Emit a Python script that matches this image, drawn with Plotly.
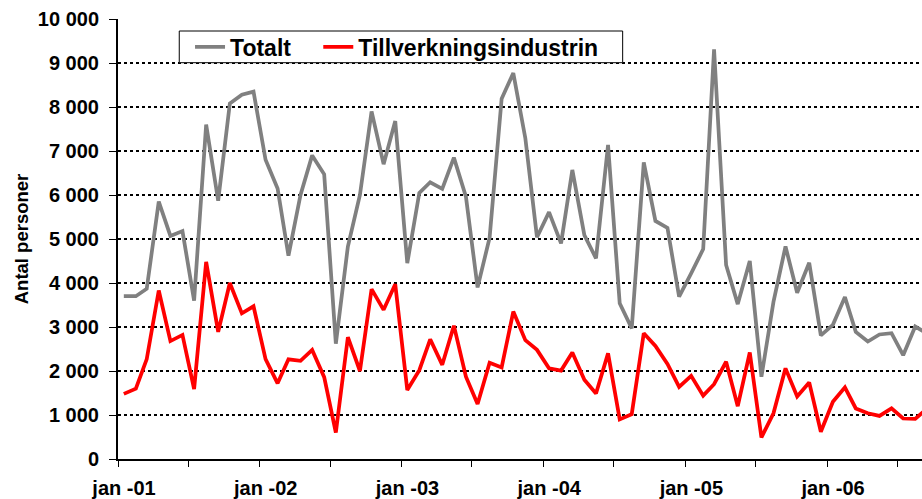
import pandas as pd
import plotly.graph_objects as go

# Monthly data, jan 2001 .. sep 2006
months = pd.date_range("2001-01-01", periods=69, freq="MS")
totalt = [3700, 3700, 3870, 5850, 5070, 5180, 3600, 7600, 5870, 8080, 8280, 8350,
          6800, 6150, 4620, 6000, 6900, 6470, 2620, 4830, 6000, 7900, 6700, 7680,
          4450, 6050, 6290, 6140, 6850, 5960, 3900, 5030, 8190, 8770, 7290, 5040,
          5610, 4900, 6570, 5090, 4560, 7140, 3540, 2970, 6740, 5410, 5250, 3690,
          4220, 4770, 9310, 4410, 3520, 4500, 1870, 3570, 4830, 3780, 4460, 2810,
          3050, 3680, 2890, 2670, 2830, 2860, 2360, 3010, 2850]
tillverkning = [1480, 1600, 2270, 3830, 2680, 2820, 1590, 4480, 2890, 4000, 3310, 3470,
                2270, 1720, 2265, 2230, 2480, 1860, 600, 2770, 2000, 3860, 3390, 3970,
                1570, 2020, 2720, 2140, 3030, 1870, 1250, 2190, 2080, 3350, 2700, 2480,
                2060, 2010, 2420, 1800, 1490, 2400, 900, 1020, 2860, 2570, 2160, 1640,
                1890, 1440, 1700, 2210, 1200, 2420, 490, 1040, 2060, 1420, 1740, 620,
                1300, 1630, 1150, 1040, 980, 1150, 920, 910, 1150]
series_names = ["Totalt", "Tillverkningsindustrin"]
tick_dates = pd.date_range("2001-01-01", "2006-07-01", freq="6MS")
tick_labels = [f"jan -{d.strftime('%y')}" if d.month == 1 else "" for d in tick_dates]

x_mid = months + pd.Timedelta(days=15)

FONT = "Liberation Sans, Arial, sans-serif"
LEGEND_FONT = dict(family=FONT, size=23, color="black", weight="bold")

fig = go.Figure()
fig.add_trace(go.Scatter(x=x_mid, y=totalt, name=series_names[0], mode="lines",
                         line=dict(color="#808080", width=3.75), legend="legend"))
fig.add_trace(go.Scatter(x=x_mid, y=tillverkning, name=series_names[1], mode="lines",
                         line=dict(color="#FF0000", width=3.75), legend="legend2"))

fig.update_layout(
    template="none",
    width=922, height=499,
    margin=dict(l=118, r=0, t=19, b=40),
    paper_bgcolor="white", plot_bgcolor="white",
    separators=", ",
    font=dict(family=FONT, size=20, color="black", weight="bold"),
    showlegend=True,
    legend=dict(orientation="h", x=0.0896, y=0.9368, xanchor="left", yanchor="middle",
                bgcolor="rgba(0,0,0,0)", borderwidth=0, font=LEGEND_FONT),
    legend2=dict(orientation="h", x=0.2491, y=0.9368, xanchor="left", yanchor="middle",
                 bgcolor="rgba(0,0,0,0)", borderwidth=0, font=LEGEND_FONT),
    shapes=[dict(type="rect", xref="paper", yref="paper",
                 x0=0.0762, x1=0.6277, y0=0.9007, y1=0.9727,
                 line=dict(color="black", width=1), fillcolor="white", layer="above")],
)
fig.update_xaxes(
    type="date", range=["2001-01-01", "2006-09-02 12:00"], automargin=False,
    tickmode="array", tickvals=tick_dates, ticktext=tick_labels,
    ticks="outside", ticklen=6, tickwidth=1, tickcolor="black",
    showline=True, linecolor="black", linewidth=2,
    showgrid=False, zeroline=False,
    tickfont=dict(family=FONT, size=20, color="black", weight="bold"),
    ticklabelstandoff=4, ticklabelshift=6,
)
fig.update_yaxes(
    range=[0, 10000], automargin=False, tickmode="linear", tick0=0, dtick=1000,
    tickformat=",d",
    ticks="outside", ticklen=7, tickwidth=1, tickcolor="black",
    showline=True, linecolor="black", linewidth=2,
    showgrid=True, gridcolor="black", gridwidth=2, griddash="3px,3px",
    zeroline=False,
    tickfont=dict(family=FONT, size=20, color="black", weight="bold"),
    ticklabelstandoff=6,
    title=dict(text="Antal personer", standoff=4,
               font=dict(family=FONT, size=18.5, color="black", weight="bold")),
)

fig.write_html(
    "out.html",
    config={"displayModeBar": False},
    post_script="document.body.style.margin='0';document.body.style.overflow='hidden';",
)
